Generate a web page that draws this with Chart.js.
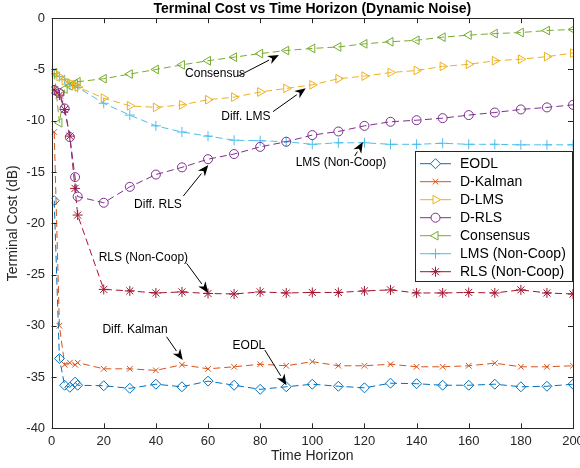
<!DOCTYPE html>
<html><head><meta charset="utf-8">
<script src="https://cdn.jsdelivr.net/npm/chart.js@4.4.1/dist/chart.umd.min.js"></script>
<style>html,body{margin:0;padding:0;background:#fff}#wrap{width:580px;height:468px}</style>
</head><body><div id="wrap"><canvas id="c" width="580" height="468"></canvas></div>
<script>
const timeHorizon = [1,3,5,7,9,10,20,30,40,50,60,70,80,90,100,110,120,130,140,150,160,170,180,190,200];
const eodl = [-17.8,-33.2,-35.8,-36.0,-35.5,-35.8,-35.85,-36.1,-35.7,-35.95,-35.4,-35.8,-36.2,-35.95,-35.7,-35.9,-36.05,-35.6,-35.65,-35.8,-35.8,-35.7,-35.95,-35.9,-35.7];
const dKalman = [-11.1,-30.0,-33.8,-33.6,-33.8,-33.6,-34.2,-34.2,-34.35,-33.8,-34.2,-34.0,-33.75,-33.9,-33.5,-33.9,-33.9,-33.75,-34.0,-34.0,-33.9,-33.65,-34.0,-34.0,-33.9];
const dLMS = [-5.3,-5.7,-6.1,-6.3,-6.5,-6.7,-7.8,-8.55,-8.7,-8.45,-7.95,-7.7,-7.2,-6.85,-6.5,-5.9,-5.65,-5.3,-5.1,-4.7,-4.5,-4.15,-4.0,-3.75,-3.4];
const dRLS = [-7.0,-7.3,-8.8,-11.6,-15.5,-17.4,-18.0,-16.45,-15.25,-14.55,-13.75,-13.25,-12.55,-12.05,-11.4,-11.05,-10.5,-10.1,-9.95,-9.75,-9.45,-9.2,-8.9,-8.7,-8.45];
const consensus = [-5.3,-10.2,-6.9,-6.6,-6.4,-6.2,-5.9,-5.45,-5.0,-4.55,-4.15,-3.8,-3.45,-3.15,-2.95,-2.8,-2.5,-2.3,-2.15,-1.85,-1.65,-1.5,-1.4,-1.2,-1.1];
const lmsNonCoop = [-5.4,-5.7,-6.0,-6.5,-6.6,-6.75,-8.3,-9.45,-10.5,-11.1,-11.5,-11.9,-11.95,-12.05,-12.3,-12.15,-12.15,-12.3,-12.3,-12.2,-12.3,-12.3,-12.35,-12.35,-12.35];
const rlsNonCoop = [-7.0,-7.5,-8.9,-11.5,-16.6,-19.2,-26.45,-26.6,-26.8,-26.7,-26.85,-26.9,-26.7,-26.8,-26.75,-26.75,-26.6,-26.5,-26.8,-26.8,-26.75,-26.8,-26.5,-26.8,-26.9];
const seriesNames = ['EODL','D-Kalman','D-LMS','D-RLS','Consensus','LMS (Non-Coop)','RLS (Non-Coop)'];
const xTicks = [0,20,40,60,80,100,120,140,160,180,200];
const yTicks = [0,-5,-10,-15,-20,-25,-30,-35,-40];

const colors = ['#0072BD','#D95319','#EDB120','#7E2F8E','#77AC30','#4DBEEE','#A2142F'];
const markers = [
  {style:'rectRot', r:5, rot:0},
  {style:'crossRot', r:4, rot:0},
  {style:'triangle', r:5, rot:90},
  {style:'circle', r:4.5, rot:0},
  {style:'triangle', r:5, rot:-90},
  {style:'cross', r:5, rot:0},
  {style:'star', r:5, rot:0}
];
const values = [eodl,dKalman,dLMS,dRLS,consensus,lmsNonCoop,rlsNonCoop];

const annotations = [
  {text:'Consensus', tx:62.7, ty:-5.44, sx:71.6, sy:-5.64, ex:87.2, ey:-3.59},
  {text:'Diff. LMS', tx:74.5, ty:-9.64, sx:84.9, sy:-9.12, ex:97.5, ey:-6.84},
  {text:'Diff. RLS', tx:40.8, ty:-18.22, sx:50.5, sy:-17.35, ex:60.1, ey:-14.32},
  {text:'RLS (Non-Coop)', tx:35.2, ty:-23.33, sx:51.8, sy:-23.91, ex:60.1, ey:-26.78},
  {text:'Diff. Kalman', tx:32.0, ty:-30.42, sx:44.1, sy:-31.07, ex:50.3, ey:-33.35},
  {text:'EODL', tx:75.7, ty:-31.9, sx:81.8, sy:-32.37, ex:90.1, ey:-35.79},
  {text:'LMS (Non-Coop)', tx:111.0, ty:-14.13, sx:116.3, sy:-13.44, ex:119.4, ey:-12.08}
];

const FONT = "'Liberation Sans', Arial, Helvetica, sans-serif";
const AX = '#262626';

const datasets = values.map((v,i)=>({
  label: seriesNames[i],
  data: timeHorizon.map((x,j)=>({x:x,y:v[j]})),
  borderColor: colors[i],
  backgroundColor: colors[i],
  borderWidth: 1,
  borderDash: [7,4],
  pointStyle: markers[i].style,
  pointRadius: markers[i].r,
  pointRotation: markers[i].rot,
  pointBorderColor: colors[i],
  pointBackgroundColor: 'rgba(0,0,0,0)',
  pointBorderWidth: 1,
  tension: 0,
  fill: false
}));

function drawMarker(ctx, style, x, y, r, rot){
  Chart.helpers.drawPoint(ctx, {pointStyle:style, radius:r, rotation:rot, borderWidth:1}, x, y);
}

const framePlugin = {
  id:'frame',
  afterDatasetsDraw(chart){
    const {ctx, chartArea:a, scales} = chart;
    const xs = scales.x, ys = scales.y;
    ctx.save();
    ctx.fillStyle = '#000'; ctx.strokeStyle = '#000'; ctx.lineWidth = 1;
    ctx.font = '12px ' + FONT; ctx.textAlign='center'; ctx.textBaseline='middle';
    annotations.forEach(an=>{
      ctx.fillText(an.text, xs.getPixelForValue(an.tx), ys.getPixelForValue(an.ty));
      const x0 = xs.getPixelForValue(an.sx), y0 = ys.getPixelForValue(an.sy);
      const x1 = xs.getPixelForValue(an.ex), y1 = ys.getPixelForValue(an.ey);
      const ang = Math.atan2(y1-y0, x1-x0);
      const hl = 11, hw = 4.5;
      const bx = x1 - hl*Math.cos(ang), by = y1 - hl*Math.sin(ang);
      ctx.beginPath(); ctx.moveTo(x0,y0); ctx.lineTo(bx,by); ctx.stroke();
      ctx.beginPath();
      ctx.moveTo(x1,y1);
      ctx.lineTo(bx + hw*Math.sin(ang), by - hw*Math.cos(ang));
      ctx.lineTo(x1 - 0.7*hl*Math.cos(ang), y1 - 0.7*hl*Math.sin(ang));
      ctx.lineTo(bx - hw*Math.sin(ang), by + hw*Math.cos(ang));
      ctx.closePath(); ctx.fill();
    });
    ctx.strokeStyle = AX; ctx.lineWidth = 1;
    ctx.strokeRect(Math.round(a.left)+0.5, Math.round(a.top)+0.5, Math.round(a.right-a.left), Math.round(a.bottom-a.top));
    const tl = 5;
    ctx.beginPath();
    xTicks.forEach(t=>{
      const p = Math.round(xs.getPixelForValue(t))+0.5;
      ctx.moveTo(p, a.bottom); ctx.lineTo(p, a.bottom-tl);
      ctx.moveTo(p, a.top); ctx.lineTo(p, a.top+tl);
    });
    yTicks.forEach(t=>{
      const p = Math.round(ys.getPixelForValue(t))+0.5;
      ctx.moveTo(a.left, p); ctx.lineTo(a.left+tl, p);
      ctx.moveTo(a.right, p); ctx.lineTo(a.right-tl, p);
    });
    ctx.stroke();
    const lw = 157, lh = 130;
    const lx = a.right - 1 - lw, ly = a.top + 133;
    ctx.fillStyle = '#fff';
    ctx.fillRect(lx, ly, lw, lh);
    ctx.strokeStyle = AX;
    ctx.strokeRect(Math.round(lx)+0.5, Math.round(ly)+0.5, lw, lh);
    ctx.font = '14px ' + FONT; ctx.textAlign='left'; ctx.textBaseline='middle';
    seriesNames.forEach((n,i)=>{
      const yy = ly + 12.5 + i*18;
      ctx.strokeStyle = colors[i]; ctx.lineWidth = 1; ctx.setLineDash([]);
      ctx.beginPath(); ctx.moveTo(lx+5, yy); ctx.lineTo(lx+36, yy); ctx.stroke();
      ctx.fillStyle = '#fff';
      ctx.strokeStyle = colors[i];
      drawMarker(ctx, markers[i].style, lx+20.5, yy, markers[i].r, markers[i].rot);
      ctx.fillStyle = '#000';
      ctx.fillText(n, lx+45, yy+0.5);
    });
    ctx.restore();
  }
};

new Chart(document.getElementById('c'), {
  type:'line',
  data:{datasets},
  options:{
    responsive:false, animation:false, devicePixelRatio:1,
    layout:{padding:{left:0,right:7,top:0,bottom:0}},
    plugins:{
      legend:{display:false},
      tooltip:{enabled:false},
      title:{display:true, text:'Terminal Cost vs Time Horizon (Dynamic Noise)', fullSize:false,
        color:'#000', font:{family:FONT, size:14, weight:'bold'}, padding:{top:1.2,bottom:0.2}}
    },
    scales:{
      x:{type:'linear', min:0, max:200,
        afterBuildTicks(s){ s.ticks = xTicks.map(v=>({value:v})); },
        afterFit(s){ s.height = 39.7; s.paddingLeft = 0; s.paddingRight = 0; },
        grid:{display:false, drawTicks:false}, border:{display:false},
        ticks:{color:AX, font:{family:FONT,size:13}, padding:5.5, maxRotation:0, autoSkip:false},
        title:{display:true, text:'Time Horizon', color:AX, font:{family:FONT,size:14}, padding:{top:0,bottom:3}}
      },
      y:{type:'linear', min:-40, max:0,
        afterBuildTicks(s){ s.ticks = yTicks.map(v=>({value:v})); },
        afterFit(s){ s.width = 51.6; s.paddingTop = 0; s.paddingBottom = 0; },
        grid:{display:false, drawTicks:false}, border:{display:false},
        ticks:{color:AX, font:{family:FONT,size:13}, padding:6.5, autoSkip:false},
        title:{display:true, text:'Terminal Cost (dB)', color:AX, font:{family:FONT,size:14}, padding:{top:4.3,bottom:0}}
      }
    }
  },
  plugins:[framePlugin]
});
</script></body></html>
